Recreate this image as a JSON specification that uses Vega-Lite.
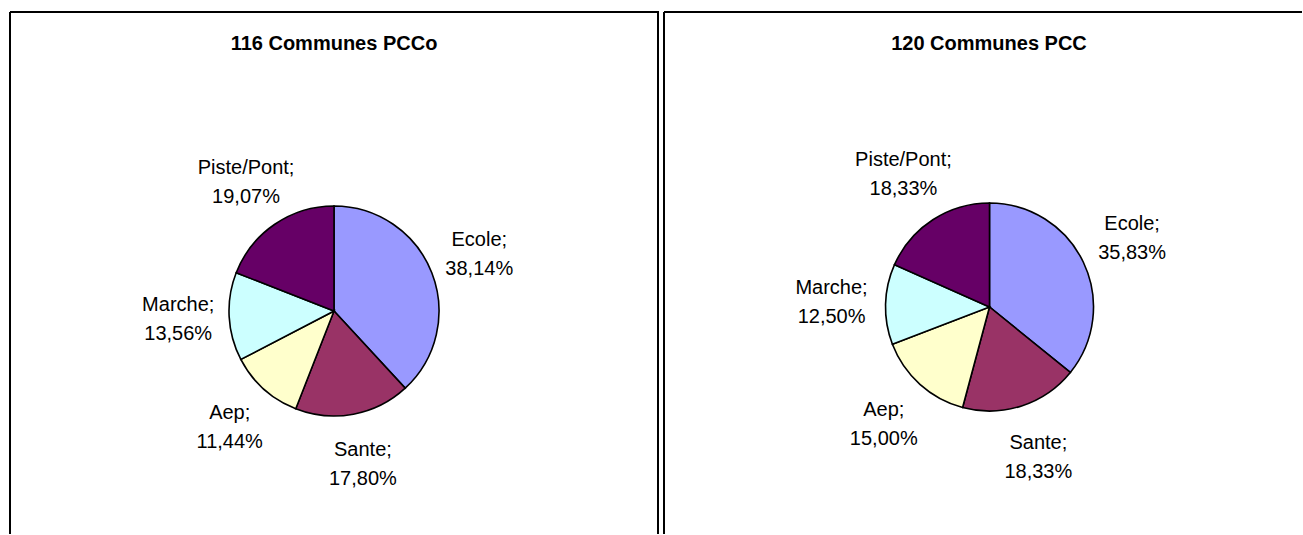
{
  "$schema": "https://vega.github.io/schema/vega-lite/v6.json",
  "padding": {"left": 9, "top": 11, "right": 0, "bottom": 0},
  "background": "white",
  "spacing": 4,
  "config": {"font": "Liberation Sans"},
  "datasets": {
    "pcco": [
      {"cat": "Ecole", "v": 38.14, "ordre": 1},
      {"cat": "Sante", "v": 17.80, "ordre": 2},
      {"cat": "Aep", "v": 11.44, "ordre": 3},
      {"cat": "Marche", "v": 13.56, "ordre": 4},
      {"cat": "Piste/Pont", "v": 19.07, "ordre": 5}
    ],
    "pcc": [
      {"cat": "Ecole", "v": 35.83, "ordre": 1},
      {"cat": "Sante", "v": 18.33, "ordre": 2},
      {"cat": "Aep", "v": 15.00, "ordre": 3},
      {"cat": "Marche", "v": 12.50, "ordre": 4},
      {"cat": "Piste/Pont", "v": 18.33, "ordre": 5}
    ]
  },
  "hconcat": [
    {
      "width": 648,
      "height": 522,
      "view": {"stroke": "black", "strokeWidth": 2, "strokeDash": [1170, 648, 522, 0]},
      "title": {"text": "116 Communes PCCo", "fontSize": 20, "fontWeight": "bold", "offset": -58, "baseline": "alphabetic", "anchor": "middle", "color": "black"},
      "data": {"name": "pcco"},
      "transform": [
        {"calculate": "[datum.cat + ';', replace(format(datum.v, '.2f'), '.', ',') + '%']", "as": "label"}
      ],
      "encoding": {
        "theta": {"field": "v", "type": "quantitative", "stack": true},
        "order": {"field": "ordre", "type": "quantitative"}
      },
      "layer": [
        {
          "mark": {"type": "arc", "outerRadius": 105, "stroke": "black", "strokeWidth": 1.6, "yOffset": 38},
          "encoding": {
            "color": {"field": "cat", "type": "nominal", "legend": null,
              "scale": {"domain": ["Ecole", "Sante", "Aep", "Marche", "Piste/Pont"], "range": ["#9999FF", "#993366", "#FFFFCC", "#CCFFFF", "#660066"]}}
          }
        },
        {
          "mark": {"type": "text", "radius": 156, "yOffset": 38, "dy": -14.5, "fontSize": 20, "lineHeight": 29, "color": "black"},
          "encoding": {
            "text": {"field": "label"},
            "detail": {"field": "cat", "type": "nominal"}
          }
        }
      ]
    },
    {
      "width": 638,
      "height": 522,
      "view": {"stroke": "black", "strokeWidth": 2, "strokeDash": [638, 1160, 522, 0]},
      "title": {"text": "120 Communes PCC", "fontSize": 20, "fontWeight": "bold", "offset": -58, "baseline": "alphabetic", "anchor": "middle", "color": "black", "dx": 6},
      "data": {"name": "pcc"},
      "transform": [
        {"calculate": "[datum.cat + ';', replace(format(datum.v, '.2f'), '.', ',') + '%']", "as": "label"}
      ],
      "encoding": {
        "theta": {"field": "v", "type": "quantitative", "stack": true},
        "order": {"field": "ordre", "type": "quantitative"}
      },
      "layer": [
        {
          "mark": {"type": "arc", "outerRadius": 104, "stroke": "black", "strokeWidth": 1.6, "xOffset": 6.5, "yOffset": 34},
          "encoding": {
            "color": {"field": "cat", "type": "nominal", "legend": null,
              "scale": {"domain": ["Ecole", "Sante", "Aep", "Marche", "Piste/Pont"], "range": ["#9999FF", "#993366", "#FFFFCC", "#CCFFFF", "#660066"]}}
          }
        },
        {
          "mark": {"type": "text", "radius": 158, "xOffset": 6.5, "yOffset": 34, "dy": -14.5, "fontSize": 20, "lineHeight": 29, "color": "black"},
          "encoding": {
            "text": {"field": "label"},
            "detail": {"field": "cat", "type": "nominal"}
          }
        }
      ]
    }
  ]
}
